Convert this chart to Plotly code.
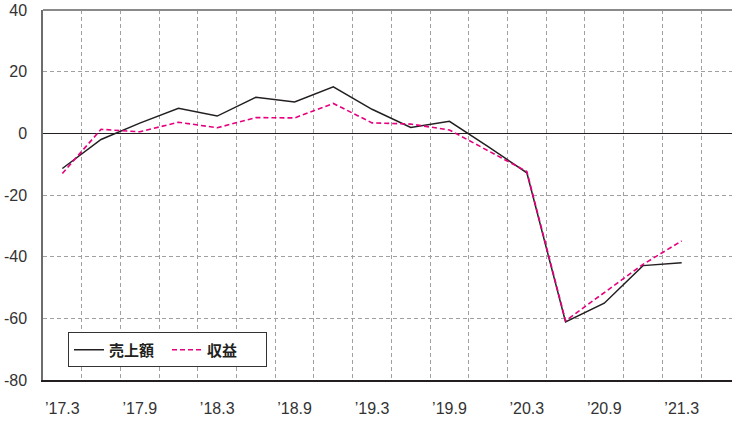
import plotly.graph_objects as go

quarters = ["17.3", "17.6", "17.9", "17.12", "18.3", "18.6", "18.9", "18.12",
            "19.3", "19.6", "19.9", "19.12", "20.3", "20.6", "20.9", "20.12", "21.3"]
sales = [-11.4, -2.0, 3.3, 8.1, 5.6, 11.7, 10.2, 15.1, 7.8, 1.9, 3.9, -4.3,
         -12.8, -61.2, -55.1, -42.9, -42.0]
profit = [-13.0, 1.3, 0.5, 3.6, 1.8, 5.1, 5.0, 9.7, 3.4, 3.0, 1.1, -5.6,
          -12.4, -60.8, -51.7, -42.5, -34.9]
tick_labels = ["’17.3", "’17.9", "’18.3", "’18.9", "’19.3", "’19.9", "’20.3", "’20.9", "’21.3"]
y_ticks = [-80, -60, -40, -20, 0, 20, 40]
y_tick_text = [str(v) for v in y_ticks]

x = list(range(len(quarters)))
tick_pos = [quarters.index(t.replace("’", "")) for t in tick_labels]
grid_pos = [i + 0.5 for i in x]

fig = go.Figure()
fig.add_trace(go.Scatter(x=x, y=sales, mode="lines", name="売上額",
                         line=dict(color="#231f20", width=1.5)))
fig.add_trace(go.Scatter(x=x, y=profit, mode="lines", name="収益",
                         line=dict(color="#e6007e", width=1.6, dash="5px,3px")))

fig.update_layout(
    width=732, height=421,
    margin=dict(l=43, r=0, t=10, b=41, autoexpand=False),
    paper_bgcolor="white", plot_bgcolor="white",
    font=dict(family="Liberation Sans, Arial, sans-serif", size=16, color="#333333"),
    showlegend=True,
    legend=dict(orientation="h", x=0.036, y=0.129, xanchor="left", yanchor="top",
                bgcolor="white", bordercolor="#333333", borderwidth=1.2,
                font=dict(family="Noto Sans CJK JP", size=15, color="#231f20", weight="bold"),
                tracegroupgap=0, itemwidth=30, entrywidth=53, entrywidthmode="pixels"),
    xaxis=dict(range=[-0.5, 17.3], tickmode="array", tickvals=tick_pos, ticktext=tick_labels,
               showgrid=False, zeroline=False, showline=True, linecolor="#231f20", linewidth=1.5,
               ticks="", ticklabelstandoff=13, automargin=False,
               minor=dict(tickmode="array", tickvals=grid_pos, showgrid=True,
                          gridcolor="#a0a0a0", gridwidth=1, griddash="4px,3px")),
    yaxis=dict(range=[-80, 40], tickmode="array", tickvals=y_ticks, ticktext=y_tick_text,
               showgrid=True, gridcolor="#a0a0a0", gridwidth=1, griddash="4px,3px",
               zeroline=True, zerolinecolor="#231f20", zerolinewidth=1.3,
               showline=True, linecolor="#6d6d6d", linewidth=1.5,
               ticks="", ticklabelstandoff=11, automargin=False),
    shapes=[dict(type="line", xref="paper", yref="paper", x0=0, x1=1, y0=1, y1=1,
                 line=dict(color="#8a8a8a", width=2), layer="above")],
)

fig.write_html("out.html", config={"displayModeBar": False},
               post_script="document.body.style.margin='0px';")
